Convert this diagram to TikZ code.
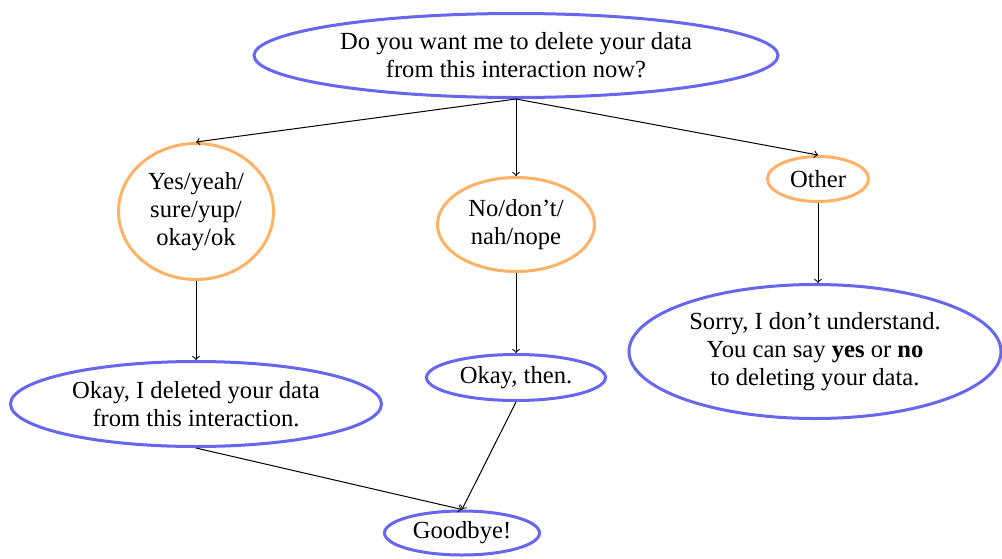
\documentclass[tikz,border=0pt]{standalone}
\usepackage{fontspec}
\setmainfont{Liberation Serif}
\usetikzlibrary{shapes.geometric}
\definecolor{qblue}{RGB}{102,102,238}
\definecolor{aorange}{RGB}{255,178,102}
\tikzset{
  base/.style={ellipse, inner sep=0pt, align=center, line width=1.5pt,
    font=\fontsize{12.3}{14}\selectfont},
  bluebox/.style={base, draw=qblue},
  orangebox/.style={base, draw=aorange},
  conn/.style={->, line width=0.5pt, black}
}
\begin{document}
\begin{tikzpicture}[x=0.5pt, y=-0.5pt]
\useasboundingbox (0,0) rectangle (1002,558);
\node[bluebox, minimum width=262pt, minimum height=42pt] (q) at (516,55.5)
  {Do you want me to delete your data\\from this interaction now?};
\node[orangebox, minimum width=77.5pt, minimum height=68pt] (yes) at (196,211.5)
  {Yes/yeah/\\sure/yup/\\okay/ok};
\node[orangebox, minimum width=78.5pt, minimum height=47pt] (no) at (516,224.5)
  {No/don't/\\nah/nope};
\node[orangebox, minimum width=50.5pt, minimum height=22.5pt] (other) at (818,179)
  {Other};
\node[bluebox, minimum width=185.5pt, minimum height=42.5pt] (del) at (196,404)
  {Okay, I deleted your data\\from this interaction.};
\node[bluebox, minimum width=89.5pt, minimum height=23pt] (then) at (516,377.5)
  {Okay, then.};
\node[bluebox, minimum width=186pt, minimum height=67pt] (sorry) at (815,351.5)
  {Sorry, I don't understand.\\You can say \textbf{yes} or \textbf{no}\\to deleting your data.};
\node[bluebox, minimum width=77.5pt, minimum height=22pt] (bye) at (462,533)
  {Goodbye!};
\draw[conn] (q.south) -- (yes.north);
\draw[conn] (q.south) -- (no.north);
\draw[conn] (q.south) -- (other.north);
\draw[conn] (yes.south) -- (del.north);
\draw[conn] (no.south) -- (then.north);
\draw[conn] (other.south) -- (sorry.north -| other.south);
\draw[conn] (del.south) -- (bye.north);
\draw[conn] (then.south) -- (bye.north);
\end{tikzpicture}
\end{document}
